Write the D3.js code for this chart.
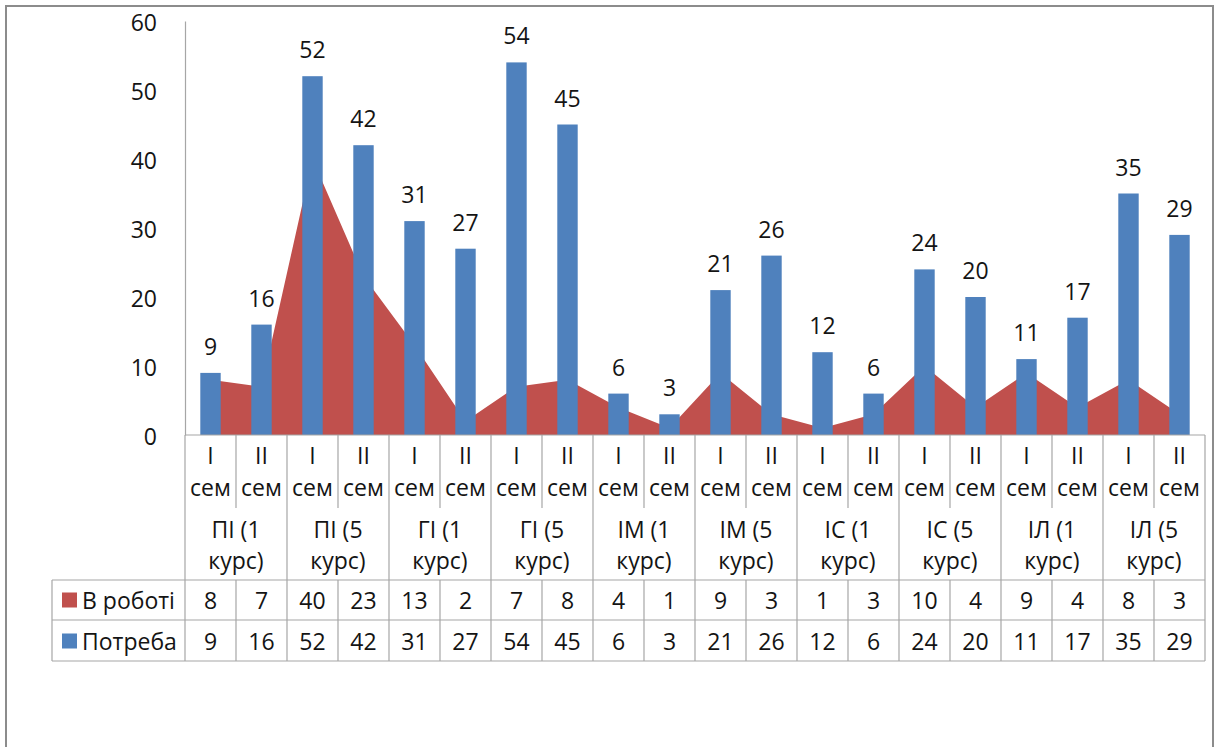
<!DOCTYPE html>
<html>
<head>
<meta charset="utf-8">
<script src="https://cdn.jsdelivr.net/npm/d3@7"></script>
<style>
  html, body { margin: 0; padding: 0; background: #fff; }
  svg { display: block; }
  text { font-family: "Open Sans", "Noto Sans", sans-serif; fill: #141414; }
</style>
</head>
<body>
<svg id="chart" width="1217" height="747"></svg>
<script>
// ---- data ----
const semTop = ["I","II","I","II","I","II","I","II","I","II","I","II","I","II","I","II","I","II","I","II"];
const semWord = "сем";
const groups = ["ПІ (1 курс)","ПІ (5 курс)","ГІ (1 курс)","ГІ (5 курс)","ІМ (1 курс)",
                "ІМ (5 курс)","ІС (1 курс)","ІС (5 курс)","ІЛ (1 курс)","ІЛ (5 курс)"];
const vRoboti = [8,7,40,23,13,2,7,8,4,1,9,3,1,3,10,4,9,4,8,3];
const potreba = [9,16,52,42,31,27,54,45,6,3,21,26,12,6,24,20,11,17,35,29];
const seriesNames = ["В роботі","Потреба"];
const yTicks = [0,10,20,30,40,50,60];

// ---- layout ----
const svg = d3.select("#chart");
const RED = "#C0504D", BLUE = "#4F81BD", LINE = "#a6a6a6";
const plotLeft = 185, plotRight = 1205, plotTop = 21, zeroY = 435;
const idx = d3.range(semTop.length);

const x = d3.scaleBand().domain(idx).range([plotLeft, plotRight]).padding(0);
const bw = x.bandwidth();
const y = d3.scaleLinear().domain([0, 60]).range([zeroY, plotTop]);
const cx = i => x(i) + bw / 2;

// outer border
svg.append("rect").attr("x", 6).attr("y", 6).attr("width", 1207).attr("height", 760)
  .attr("fill", "none").attr("stroke", "#8c8c8c").attr("stroke-width", 2);

// area series (В роботі)
const area = d3.area().x((d, i) => cx(i)).y0(y(0)).y1(d => y(d));
svg.append("path").datum(vRoboti).attr("d", area).attr("fill", RED);

// bars (Потреба)
const barW = bw * 0.4;
svg.selectAll("rect.bar").data(potreba).join("rect").attr("class", "bar")
  .attr("x", (d, i) => cx(i) - barW / 2).attr("width", barW)
  .attr("y", d => y(d)).attr("height", d => y(0) - y(d))
  .attr("fill", BLUE);

// data labels
const FS = 23;
svg.selectAll("text.lbl").data(potreba).join("text").attr("class", "lbl")
  .attr("x", (d, i) => cx(i)).attr("y", d => y(d) - 27)
  .attr("text-anchor", "middle").attr("dominant-baseline", "central")
  .attr("font-size", FS).text(d => d);

// y axis
const yAxis = d3.axisLeft(y).tickValues(yTicks).tickSizeInner(0).tickSizeOuter(0).tickPadding(28);
const gy = svg.append("g").attr("transform", `translate(${plotLeft},0)`).call(yAxis);
gy.select(".domain").attr("stroke", LINE).attr("stroke-width", 1.2);
gy.selectAll("text").attr("font-size", FS).attr("font-family", '"Open Sans", sans-serif')
  .attr("fill", "#141414").attr("dy", null).attr("dominant-baseline", "central");

// ---- category axis / table ----
const g = svg.append("g").attr("stroke", LINE).attr("stroke-width", 1.2);
const semBottom = 508, grpBottom = 580, row1 = 620, row2 = 661, tableLeft = 52;
g.append("line").attr("x1", plotLeft).attr("x2", plotRight).attr("y1", zeroY).attr("y2", zeroY);
d3.range(semTop.length + 1).forEach(i => {
  const xx = i < semTop.length ? x(i) : plotRight;
  const isGroup = i % 2 === 0;
  g.append("line").attr("x1", xx).attr("x2", xx)
    .attr("y1", zeroY).attr("y2", isGroup ? row2 : semBottom);
  if (!isGroup) {
    g.append("line").attr("x1", xx).attr("x2", xx).attr("y1", grpBottom).attr("y2", row2);
  }
});
[grpBottom, row1, row2].forEach(yy => {
  g.append("line").attr("x1", tableLeft).attr("x2", plotRight).attr("y1", yy).attr("y2", yy);
});
g.append("line").attr("x1", tableLeft).attr("x2", tableLeft).attr("y1", grpBottom).attr("y2", row2);

// semester labels
semTop.forEach((s, i) => {
  svg.append("text").attr("x", cx(i)).attr("y", 455).attr("text-anchor", "middle")
    .attr("dominant-baseline", "central").attr("font-size", FS).text(s);
  svg.append("text").attr("x", cx(i)).attr("y", 487).attr("text-anchor", "middle")
    .attr("dominant-baseline", "central").attr("font-size", FS).text(semWord);
});
// group labels
groups.forEach((gname, k) => {
  const gx = x(2 * k) + bw;
  const parts = gname.split(" ");
  const line1 = parts[0] + " " + parts[1];
  const line2 = parts.slice(2).join(" ");
  svg.append("text").attr("x", gx).attr("y", 529).attr("text-anchor", "middle")
    .attr("dominant-baseline", "central").attr("font-size", FS).text(line1);
  svg.append("text").attr("x", gx).attr("y", 560).attr("text-anchor", "middle")
    .attr("dominant-baseline", "central").attr("font-size", FS).text(line2);
});

// data table rows
const rows = [{name: seriesNames[0], color: RED, vals: vRoboti, yc: 600},
              {name: seriesNames[1], color: BLUE, vals: potreba, yc: 641}];
rows.forEach(r => {
  svg.append("rect").attr("x", 62).attr("y", r.yc - 7.5).attr("width", 15).attr("height", 15).attr("fill", r.color);
  svg.append("text").attr("x", 82).attr("y", r.yc).attr("dominant-baseline", "central")
    .attr("font-size", FS).text(r.name);
  r.vals.forEach((v, i) => {
    svg.append("text").attr("x", cx(i)).attr("y", r.yc).attr("text-anchor", "middle")
      .attr("dominant-baseline", "central").attr("font-size", FS).text(v);
  });
});
</script>
</body>
</html>
